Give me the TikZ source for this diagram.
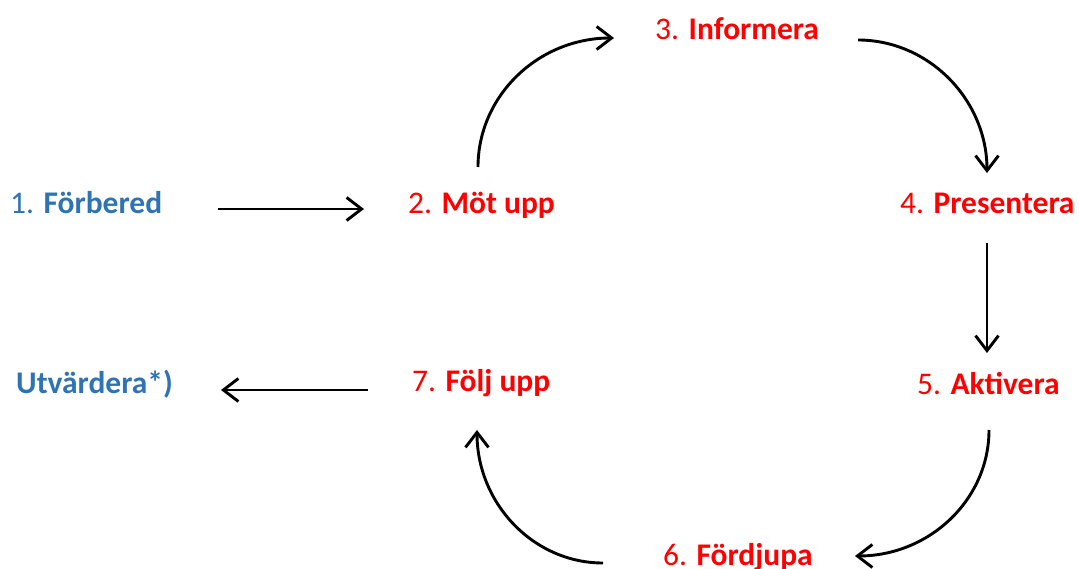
\documentclass[tikz,border=0pt]{standalone}
\usepackage{fontspec}
\setmainfont{Carlito}
\usetikzlibrary{arrows.meta}
\definecolor{stepblue}{HTML}{2E74B5}
\definecolor{stepred}{HTML}{FF0000}
\tikzset{
  lbl/.style={anchor=base west, inner sep=0pt, font=\fontsize{31.5}{36}\selectfont},
  bluelbl/.style={lbl, text=stepblue},
  redlbl/.style={lbl, text=stepred},
  conn/.style={line width=2.9pt, -{Straight Barb[length=15pt,width=23pt,line width=2.9pt]}}
}
\begin{document}
\begin{tikzpicture}[x=1pt,y=-1pt]
\useasboundingbox (0,0) rectangle (1079,569);
% labels
\node[bluelbl] (n1) at (10,214) {1. \textbf{Förbered}};
\node[redlbl] (n2) at (408,214) {2. \textbf{Möt upp}};
\node[redlbl] (n3) at (655,40) {3. \textbf{Informera}};
\node[redlbl] (n4) at (900,214) {4. \textbf{Presentera}};
\node[redlbl] (n5) at (917,394) {5. \textbf{Aktivera}};
\node[redlbl] (n6) at (663,565) {6. \textbf{Fördjupa}};
\node[redlbl] (n7) at (412,391) {7. \textbf{Följ upp}};
\node[bluelbl] (n8) at (16,393) {\textbf{Utvärdera*)}};
% connector ends
\coordinate (a1s) at (218,209);
\coordinate (a1e) at (364,209);
\coordinate (a2s) at (478,167);
\coordinate (a2e) at (614,38);
\coordinate (a3s) at (858,40);
\coordinate (a3e) at (987,173);
\coordinate (a4s) at (987,243);
\coordinate (a4e) at (987,353);
\coordinate (a5s) at (989,430);
\coordinate (a5e) at (855,556);
\coordinate (a6s) at (603,563);
\coordinate (a6e) at (477,430);
\coordinate (a7s) at (368,390);
\coordinate (a7e) at (221,390);
% connectors
\draw[conn] (a1s) -- (a1e);
\draw[conn] (a2s) .. controls (478,96) and (538,38) .. (a2e);
\draw[conn] (a3s) .. controls (929,40) and (987,100) .. (a3e);
\draw[conn] (a4s) -- (a4e);
\draw[conn] (a5s) .. controls (989,500) and (929,556) .. (a5e);
\draw[conn] (a6s) .. controls (533,563) and (477,503) .. (a6e);
\draw[conn] (a7s) -- (a7e);
\end{tikzpicture}
\end{document}
